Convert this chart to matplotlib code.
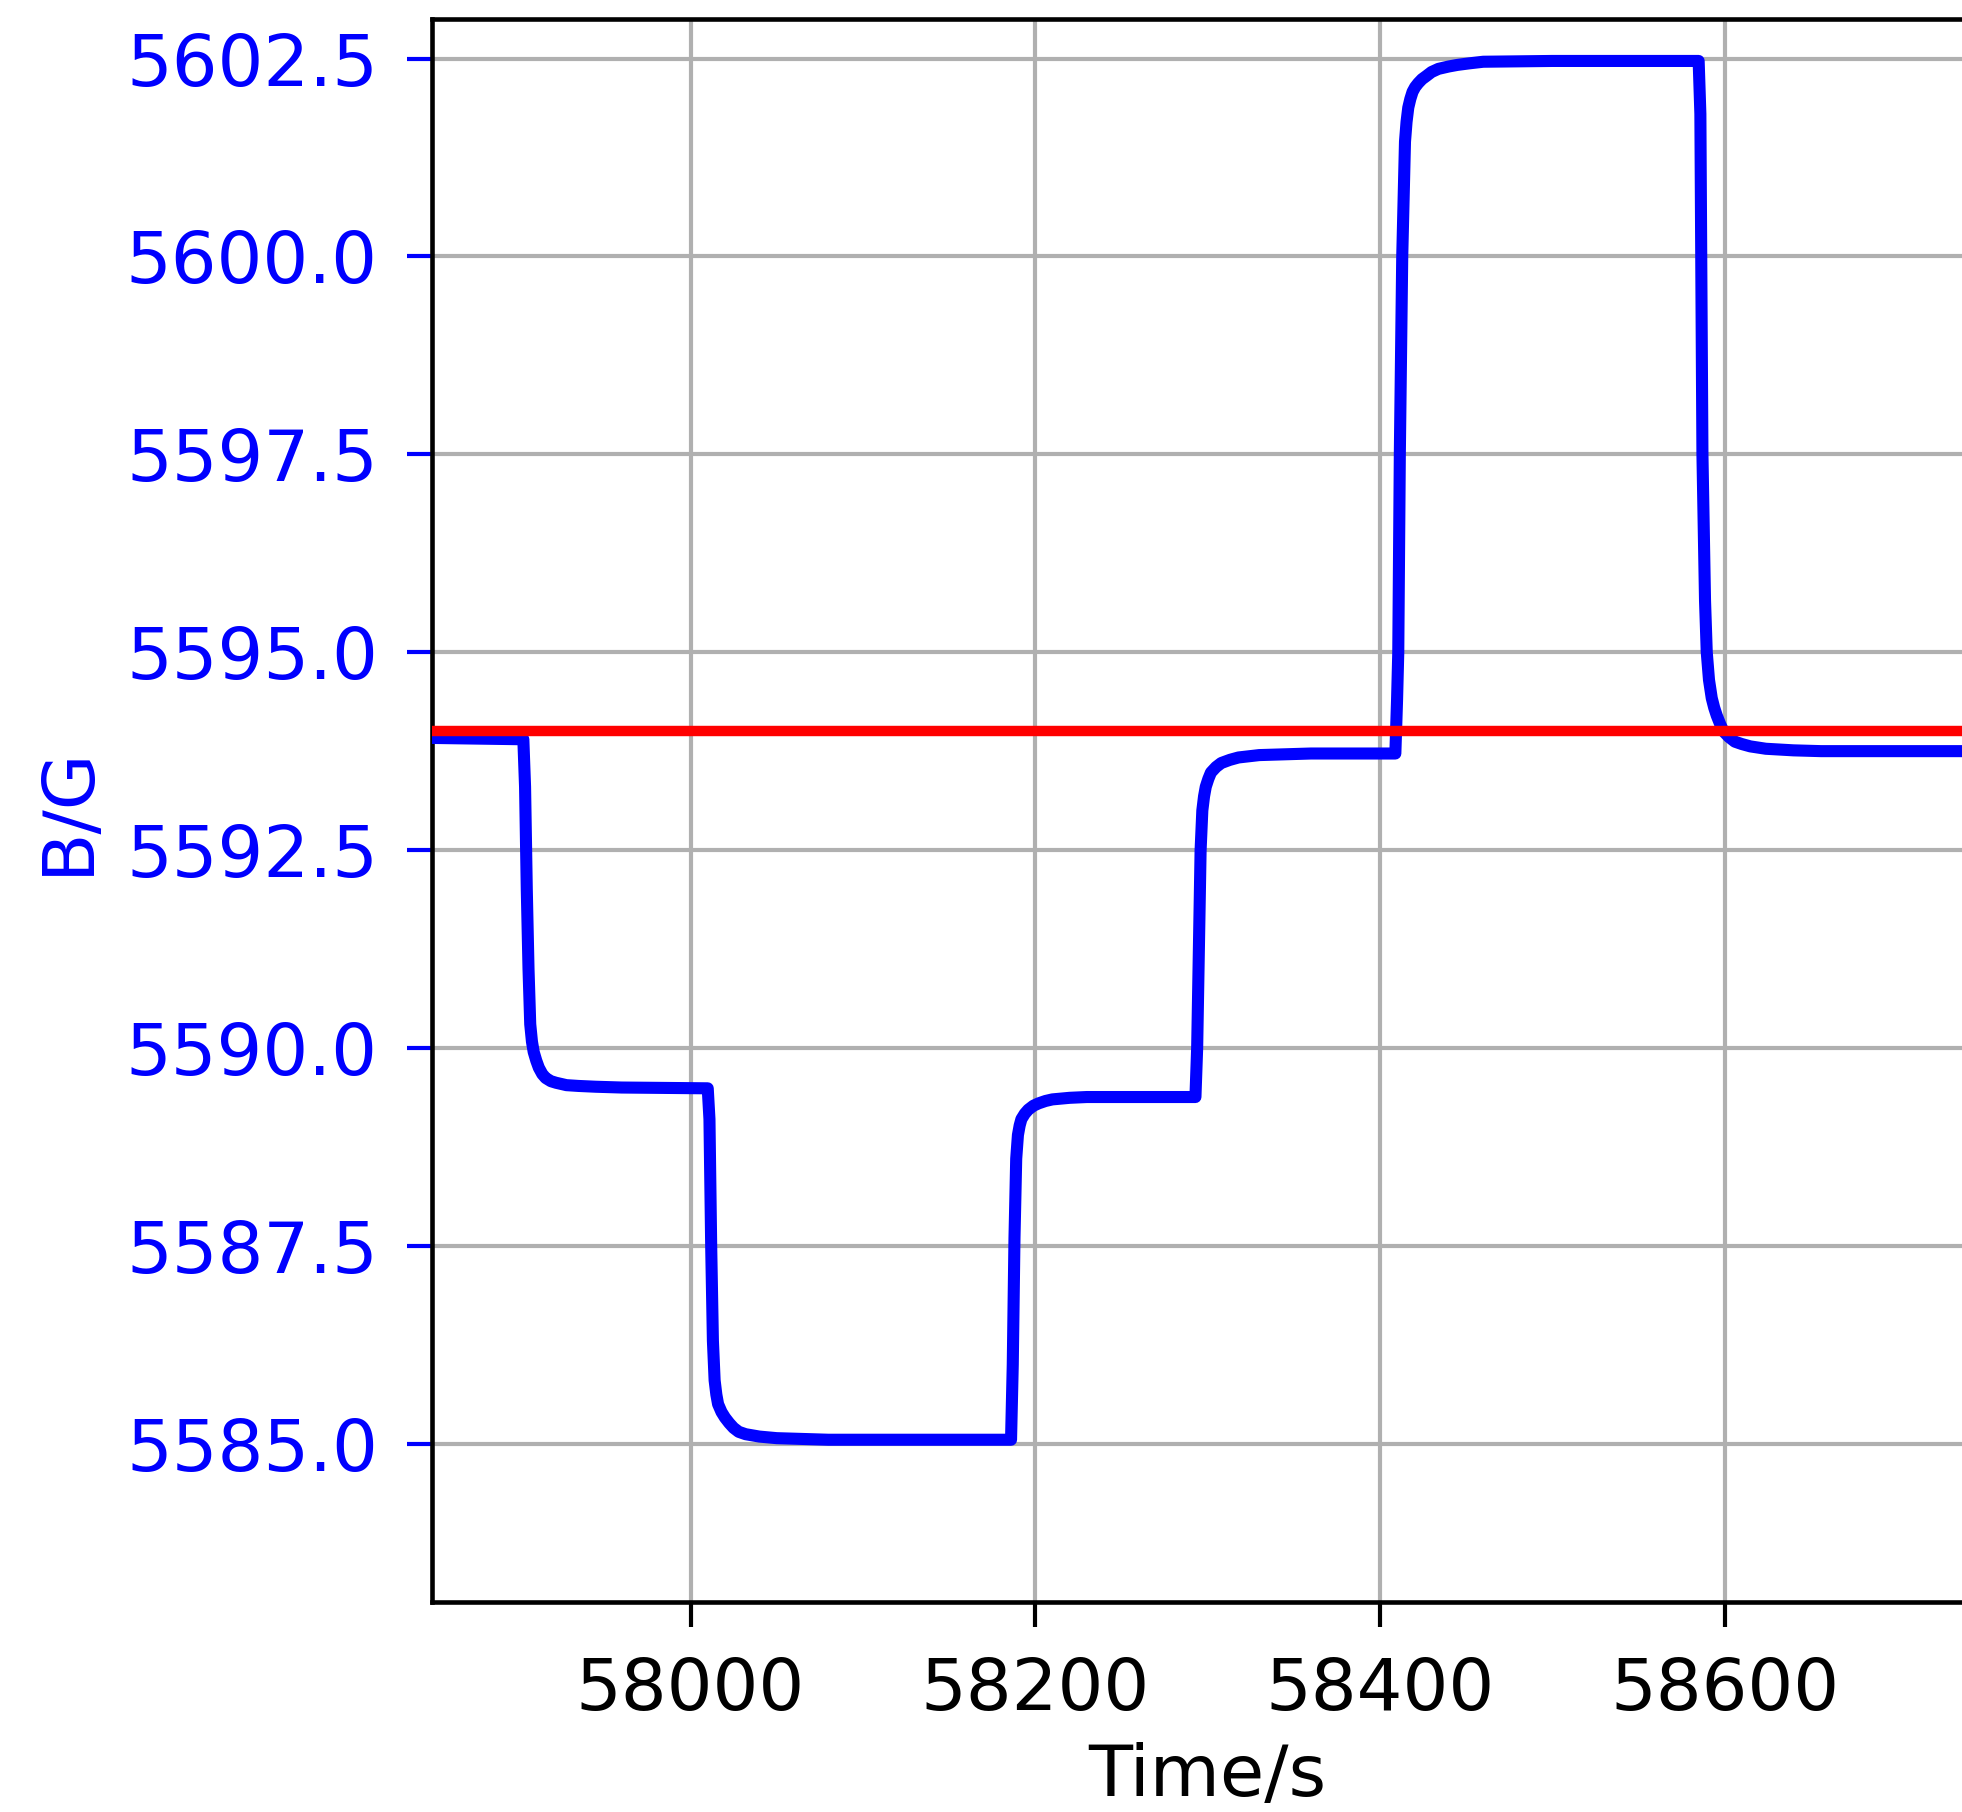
import matplotlib
matplotlib.use("Agg")
import matplotlib.pyplot as plt

# ---- data ----
time_s = [
    57840, 57903, 57904, 57905, 57906, 57907, 57908, 57909, 57910.5, 57912, 57914, 57916, 57919, 57922, 57928, 57935, 57945, 57960, 58010,
    58011, 58012, 58013, 58014, 58015, 58016, 58018, 58020, 58022.5, 58025, 58028, 58032, 58040, 58050, 58080, 58186,
    58187, 58188, 58189, 58190, 58191, 58192, 58194, 58196, 58199, 58202, 58206, 58210, 58220, 58230, 58293,
    58294, 58296, 58297, 58298, 58299, 58300.5, 58302, 58305, 58308, 58313, 58318, 58330, 58360, 58409,
    58410, 58410.7, 58411.6, 58413, 58414.6, 58415.5, 58416.5, 58417.7, 58419, 58420.5, 58422.3, 58424.5, 58427, 58430, 58434, 58440, 58445, 58452, 58460, 58500, 58585,
    58586, 58586.5, 58587.2, 58588.7, 58589.7, 58591, 58592.6, 58594, 58595.5, 58597.5, 58599.4, 58602.5, 58606, 58610, 58615, 58624, 58640, 58656, 58760,
]
field_G = [
    5593.92, 5593.90, 5593.3, 5592.0, 5591.0, 5590.3, 5590.08, 5589.95, 5589.84, 5589.75, 5589.67, 5589.62, 5589.58, 5589.56, 5589.53, 5589.52, 5589.51, 5589.50, 5589.49,
    5589.1, 5587.5, 5586.3, 5585.8, 5585.62, 5585.5, 5585.4, 5585.33, 5585.26, 5585.2, 5585.15, 5585.12, 5585.09, 5585.07, 5585.05, 5585.05,
    5586.0, 5587.6, 5588.6, 5588.9, 5589.02, 5589.1, 5589.17, 5589.22, 5589.27, 5589.3, 5589.33, 5589.35, 5589.37, 5589.38, 5589.38,
    5590.0, 5592.5, 5593.0, 5593.18, 5593.3, 5593.4, 5593.48, 5593.55, 5593.6, 5593.64, 5593.67, 5593.70, 5593.72, 5593.72,
    5594.4, 5595.0, 5597.5, 5600.0, 5601.45, 5601.7, 5601.88, 5601.99, 5602.08, 5602.14, 5602.19, 5602.24, 5602.28, 5602.33, 5602.37, 5602.40, 5602.42, 5602.44, 5602.46, 5602.47, 5602.47,
    5601.8, 5600.0, 5597.5, 5595.65, 5595.0, 5594.65, 5594.42, 5594.3, 5594.2, 5594.09, 5594.0, 5593.93, 5593.87, 5593.84, 5593.81, 5593.78, 5593.76, 5593.75, 5593.75,
]
reference_G = 5594.0
x_ticks = [58000, 58200, 58400, 58600]
y_ticks = [5585.0, 5587.5, 5590.0, 5592.5, 5595.0, 5597.5, 5600.0, 5602.5]

W, H, DPI = 1962, 1812, 300
fig = plt.figure(figsize=(W / DPI, H / DPI), dpi=DPI)
ax = fig.add_axes([432 / W, (H - 1602) / H, 1551 / W, (1602 - 19) / H])

ax.plot(time_s, field_G, color="blue", lw=2.9, solid_joinstyle="round", solid_capstyle="round", zorder=3)
ax.axhline(reference_G, color="red", lw=2.5, zorder=4)

ax.set_xlim(57850, 58750)
ax.set_ylim(5583.0, 5603.0)
ax.set_xticks(x_ticks)
ax.set_yticks(y_ticks)
ax.set_yticklabels([f"{v:.1f}" for v in y_ticks])

ax.grid(True, color="#b0b0b0", lw=1.0)
ax.set_axisbelow(True)

for s in ax.spines.values():
    s.set_linewidth(1.1)
    s.set_color("black")

ax.tick_params(axis="x", labelsize=17.3, length=6, width=1.0, pad=7, colors="black")
ax.tick_params(axis="y", labelsize=17.3, length=6, width=1.0, pad=7, colors="blue")

ax.set_xlabel("Time/s", fontsize=17.3, color="black", labelpad=4)
ax.set_ylabel("B/G", fontsize=17.3, color="blue", labelpad=5.5)

fig.savefig("out.png", dpi=DPI)
